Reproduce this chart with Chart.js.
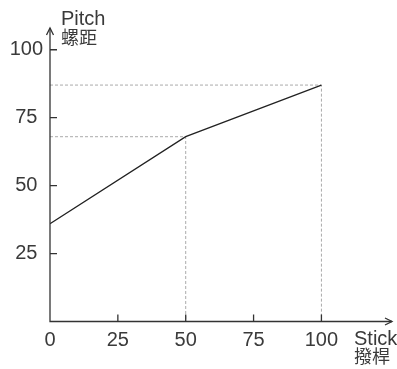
<!DOCTYPE html>
<html lang="zh-Hant">
<head>
<meta charset="UTF-8">
<title>Pitch vs Stick</title>
<script src="https://cdn.jsdelivr.net/npm/chart.js"></script>
<style>
  body { margin: 0; background: #fff; }
  #wrap { width: 397px; height: 369px; }
</style>
</head>
<body>
<div id="wrap"><canvas id="myChart"></canvas></div>
<script>
// data
const stick = [0, 50, 100];
const pitch = [36, 68, 87];
const xTicks = [0, 25, 50, 75, 100];
const yTicks = [25, 50, 75, 100];
const xMax = 126;
const yMax = 108;

const FONT = "'Liberation Sans', Arial, sans-serif";
const CJK = "'Noto Sans CJK TC', 'Noto Sans CJK SC', sans-serif";
const TEXT = '#3a3a3a';

// dashed guide lines from the two break points down to the axes
function guide(i) {
    return [
        { x: 0, y: pitch[i] },
        { x: stick[i], y: pitch[i] },
        { x: stick[i], y: 0 }
    ];
}

const axesPlugin = {
    id: 'axesPlugin',
    afterDraw(chart) {
        const ctx = chart.ctx;
        const xs = chart.scales.x;
        const ys = chart.scales.y;
        const x0 = xs.getPixelForValue(0);
        const y0 = ys.getPixelForValue(0);
        const xEnd = xs.getPixelForValue(xMax);
        const yEnd = ys.getPixelForValue(yMax);
        ctx.save();
        ctx.strokeStyle = '#333';
        ctx.lineWidth = 1.3;
        // axes
        ctx.beginPath();
        ctx.moveTo(x0, yEnd);
        ctx.lineTo(x0, y0);
        ctx.lineTo(xEnd, y0);
        ctx.stroke();
        // arrow heads
        ctx.beginPath();
        ctx.moveTo(x0 - 3.5, yEnd + 7);
        ctx.lineTo(x0, yEnd);
        ctx.lineTo(x0 + 3.5, yEnd + 7);
        ctx.moveTo(xEnd - 7, y0 - 3.5);
        ctx.lineTo(xEnd, y0);
        ctx.lineTo(xEnd - 7, y0 + 3.5);
        ctx.stroke();
        // tick marks, pointing inwards
        ctx.beginPath();
        xTicks.forEach(v => {
            if (v === 0) return;
            const px = xs.getPixelForValue(v);
            ctx.moveTo(px, y0);
            ctx.lineTo(px, y0 - 7);
        });
        yTicks.forEach(v => {
            const py = ys.getPixelForValue(v);
            ctx.moveTo(x0, py);
            ctx.lineTo(x0 + 7, py);
        });
        ctx.stroke();
        // axis titles
        ctx.fillStyle = TEXT;
        ctx.textAlign = 'left';
        ctx.textBaseline = 'alphabetic';
        ctx.font = '20px ' + FONT;
        ctx.fillText('Pitch', x0 + 11, 25);
        ctx.fillText('Stick', 354, 345);
        ctx.font = '18px ' + CJK;
        ctx.fillText('螺距', x0 + 11, 44);
        ctx.fillText('撥桿', 354, 363);
        ctx.restore();
    }
};

const ctx = document.getElementById('myChart');
new Chart(ctx, {
    type: 'scatter',
    data: {
        datasets: [
            {
                data: stick.map((s, i) => ({ x: s, y: pitch[i] })),
                showLine: true,
                borderColor: '#222',
                borderWidth: 1.3,
                pointRadius: 0
            },
            {
                data: guide(1),
                showLine: true,
                borderColor: '#aaa',
                borderWidth: 1,
                borderDash: [3, 2],
                pointRadius: 0
            },
            {
                data: guide(2),
                showLine: true,
                borderColor: '#aaa',
                borderWidth: 1,
                borderDash: [3, 2],
                pointRadius: 0
            }
        ]
    },
    options: {
        responsive: true,
        maintainAspectRatio: false,
        animation: false,
        layout: { padding: { top: 28, right: 5, left: 0, bottom: 0 } },
        plugins: {
            legend: { display: false },
            tooltip: { enabled: false }
        },
        scales: {
            x: {
                type: 'linear',
                min: 0,
                max: xMax,
                grid: { display: false, drawTicks: false },
                border: { display: false },
                afterBuildTicks: s => { s.ticks = xTicks.map(v => ({ value: v })); },
                afterFit: s => { s.height = 47.5; },
                ticks: {
                    padding: 7,
                    color: TEXT,
                    font: { family: FONT, size: 20 }
                }
            },
            y: {
                type: 'linear',
                min: 0,
                max: yMax,
                grid: { display: false, drawTicks: false },
                border: { display: false },
                afterBuildTicks: s => { s.ticks = yTicks.map(v => ({ value: v })); },
                afterFit: s => { s.width = 50; },
                ticks: {
                    padding: 7,
                    crossAlign: 'center',
                    color: TEXT,
                    font: { family: FONT, size: 20 }
                }
            }
        }
    },
    plugins: [axesPlugin]
});
</script>
</body>
</html>
